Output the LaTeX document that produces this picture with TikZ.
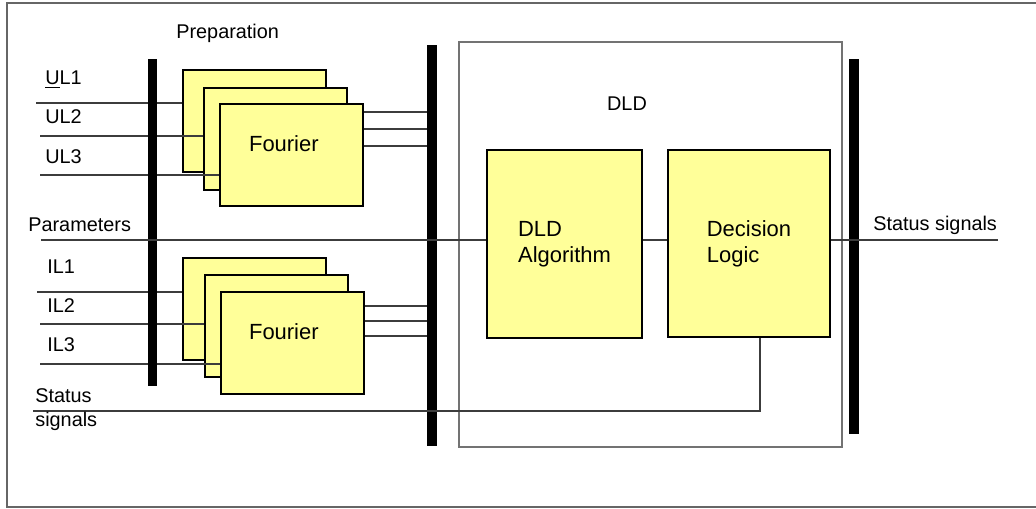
\documentclass[tikz,border=0pt]{standalone}
\usepackage{fontspec}
\setmainfont{Liberation Sans}
\usetikzlibrary{positioning}
\definecolor{boxyellow}{RGB}{255,255,153}
\definecolor{wiregray}{RGB}{60,60,60}

\tikzset{
  fourier/.style={draw=black,line width=1pt,fill=boxyellow,anchor=north west,
    minimum width=2.86cm,minimum height=2.05cm,inner sep=0pt},
  block/.style={draw=black,line width=1pt,fill=boxyellow,align=left,
    font=\fontsize{12.5}{14.7}\selectfont},
  boxtext/.style={inner sep=0pt,font=\fontsize{12.5}{14.7}\selectfont},
  bus/.style={fill=black,minimum width=0.2cm,inner sep=0pt,anchor=north},
  sig/.style={draw=wiregray,line width=0.7pt},
  lbl/.style={anchor=west,inner sep=0pt,align=left,
    font=\fontsize{11.3}{13.6}\selectfont},
}

\begin{document}
\begin{tikzpicture}[x=0.02cm,y=-0.02cm]
  \useasboundingbox (0,0) rectangle (1036,508);
  %% ---- outer frame ----
  \draw[gray!80!black,line width=0.8pt] (1036,3) -| (7,507) -- (1036,507);

  %% ---- DLD container ----
  \draw[gray!90!black,line width=0.8pt] (459,42) rectangle (842,447);
  \node[boxtext,font=\fontsize{11.3}{13.6}\selectfont] (dldlbl) at (627,104) {DLD};
  \node[block,minimum width=3.1cm,minimum height=3.76cm] (alg) at (564.5,244) {DLD\\Algorithm};
  \node[block,minimum width=3.24cm,minimum height=3.74cm] (dec) at (749,243.5) {Decision\\Logic};

  %% ---- preparation: voltage channels ----
  \node[lbl] (prep) at (176,33) {Preparation};
  \node[fourier] (f11) at (182,69) {};
  \node[fourier] (f12) at (203,87) {};
  \node[fourier] (f13) at (219,103) {};
  \node[boxtext] at ([xshift=-0.15cm,yshift=0.22cm]f13.center) {Fourier};
  \coordinate (ul1) at (36,103);
  \coordinate (ul2) at (40,136);
  \coordinate (ul3) at (40,175);
  \draw[sig] (ul1) -- (ul1 -| f11.west);
  \draw[sig] (ul2) -- (ul2 -| f12.west);
  \draw[sig] (ul3) -- (ul3 -| f13.west);
  \node[lbl] (lul1) at (45,80) {\underline{U}L1};
  \node[lbl] (lul2) at (45,117) {UL2};
  \node[lbl] (lul3) at (45,157) {UL3};

  %% ---- preparation: current channels ----
  \node[fourier] (f21) at (182,257) {};
  \node[fourier] (f22) at (204,274) {};
  \node[fourier] (f23) at (220,291) {};
  \node[boxtext] at ([xshift=-0.17cm,yshift=0.22cm]f23.center) {Fourier};
  \coordinate (il1) at (37,292);
  \coordinate (il2) at (40,324);
  \coordinate (il3) at (40,364);
  \draw[sig] (il1) -- (il1 -| f21.west);
  \draw[sig] (il2) -- (il2 -| f22.west);
  \draw[sig] (il3) -- (il3 -| f23.west);
  \node[lbl] (lil1) at (47,267) {IL1};
  \node[lbl] (lil2) at (47,306) {IL2};
  \node[lbl] (lil3) at (47,345) {IL3};

  %% ---- busses ----
  \node[bus,minimum height=6.54cm] (bus1) at (152.5,59) {};
  \node[bus,minimum height=8.02cm] (bus2) at (432,45) {};
  \node[bus,minimum height=7.5cm] (bus3) at (853.5,59) {};

  %% Fourier outputs to the bus
  \foreach \y in {112,129,146} \draw[sig] (f13.east |- 0,\y) -- (bus2.west |- 0,\y);
  \foreach \y in {306,321,336} \draw[sig] (f23.east |- 0,\y) -- (bus2.west |- 0,\y);

  %% ---- parameters and status ----
  \coordinate (par) at (41,240);
  \coordinate (sout) at (998,240);
  \coordinate (sin) at (33,411);
  \coordinate (fb) at (760,411);
  \draw[sig] (par) -- (par -| alg.west);
  \draw[sig] (par -| alg.east) -- (par -| dec.west);
  \draw[sig] (par -| dec.east) -- (sout);
  \draw[sig] (fb |- dec.south) -- (fb) -- (sin);
  \node[lbl] (lpar) at (28,225) {Parameters};
  \node[lbl] (lsin) at (35,410) {Status\\signals};
  \node[lbl] (lsout) at (873,225) {Status signals};
\end{tikzpicture}
\end{document}
